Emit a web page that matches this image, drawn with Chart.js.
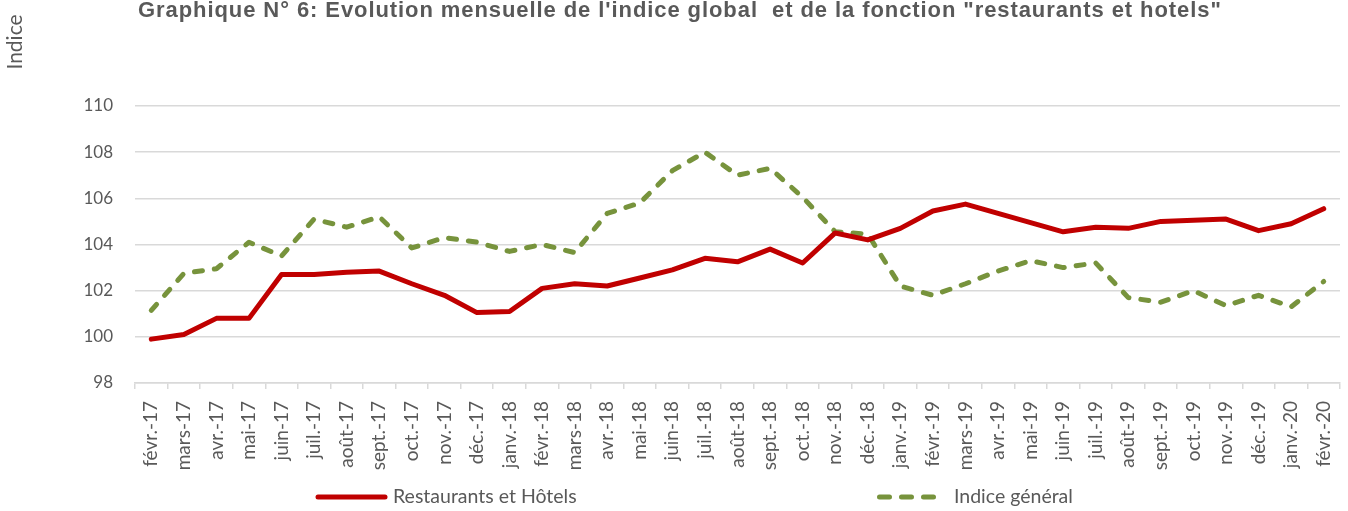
<!DOCTYPE html>
<html>
<head>
<meta charset="utf-8">
<script src="https://cdn.jsdelivr.net/npm/chart.js@4.4.0/dist/chart.umd.min.js"></script>
<style>
html,body{margin:0;padding:0;background:#fff;}
#wrap{width:1348px;height:511px;position:relative;}
</style>
</head>
<body>
<div id="wrap"><canvas id="c" width="1348" height="511"></canvas></div>
<script>
const categories = ["févr.-17","mars-17","avr.-17","mai-17","juin-17","juil.-17","août-17","sept.-17","oct.-17","nov.-17","déc.-17","janv.-18","févr.-18","mars-18","avr.-18","mai-18","juin-18","juil.-18","août-18","sept.-18","oct.-18","nov.-18","déc.-18","janv.-19","févr.-19","mars-19","avr.-19","mai-19","juin-19","juil.-19","août-19","sept.-19","oct.-19","nov.-19","déc.-19","janv.-20","févr.-20"];
const restaurantsHotels = [99.9,100.1,100.8,100.8,102.7,102.7,102.8,102.85,102.3,101.8,101.05,101.1,102.1,102.3,102.2,102.55,102.9,103.4,103.25,103.8,103.2,104.5,104.2,104.7,105.45,105.75,105.35,104.95,104.55,104.75,104.7,105.0,105.05,105.1,104.6,104.9,105.55];
const indiceGeneral = [101.15,102.75,102.95,104.1,103.5,105.1,104.75,105.2,103.85,104.3,104.1,103.7,104.0,103.65,105.35,105.8,107.2,108.0,107.0,107.3,106.05,104.55,104.45,102.2,101.8,102.3,102.85,103.3,103.0,103.2,101.7,101.5,102.0,101.35,101.8,101.3,102.4];
const yTicks = [98,100,102,104,106,108,110];
const titleText = 'Graphique N° 6: Evolution mensuelle de l\'indice global  et de la fonction "restaurants et hotels"';
const yLabel = 'Indice';
const seriesNames = ["Restaurants et Hôtels","Indice général"];

const TXT = '#595959';
const GRID = '#d9d9d9';
const RED = '#C00000';
const GREEN = '#77933C';

Chart.defaults.font.family = 'Lato, sans-serif';
Chart.defaults.font.size = 17;
Chart.defaults.color = TXT;

const decor = {
  id:'decor',
  afterDraw(chart){
    const ctx = chart.ctx;
    ctx.save();
    ctx.fillStyle = TXT;
    ctx.font = 'bold 22px "Liberation Sans", Arial, sans-serif';
    ctx.textAlign = 'left';
    ctx.textBaseline = 'middle';
    const target = 1084;
    const w = ctx.measureText(titleText).width;
    const ls = (target - w) / titleText.length;
    ctx.letterSpacing = ls.toFixed(2) + 'px';
    ctx.fillText(titleText, 138, 11);
    ctx.letterSpacing = '0px';
    ctx.save();
    ctx.translate(15, 42);
    ctx.rotate(-Math.PI/2);
    ctx.textAlign = 'center';
    ctx.font = '21px Lato, sans-serif';
    ctx.fillText(yLabel, 0, 0);
    ctx.restore();
    const ly = 497;
    ctx.lineCap = 'round';
    ctx.lineWidth = 5;
    ctx.strokeStyle = RED;
    ctx.beginPath(); ctx.moveTo(318, ly); ctx.lineTo(385, ly); ctx.stroke();
    ctx.strokeStyle = GREEN;
    ctx.setLineDash([10, 12]);
    ctx.beginPath(); ctx.moveTo(879.5, ly); ctx.lineTo(934, ly); ctx.stroke();
    ctx.setLineDash([]);
    ctx.fillStyle = TXT;
    ctx.font = '19.5px Lato, sans-serif';
    ctx.textAlign = 'left';
    ctx.fillText(seriesNames[0], 393, ly);
    ctx.fillText(seriesNames[1], 954, ly);
    ctx.restore();
  }
};

new Chart(document.getElementById('c'), {
  type:'line',
  data:{
    labels: categories,
    datasets:[
      {label:seriesNames[0], data:restaurantsHotels, borderColor:RED, borderWidth:5, pointRadius:0, tension:0, borderJoinStyle:'round', borderCapStyle:'round'},
      {label:seriesNames[1], data:indiceGeneral, borderColor:GREEN, borderWidth:5, pointRadius:0, tension:0, borderDash:[8,12], borderCapStyle:'round', borderJoinStyle:'round'}
    ]
  },
  options:{
    responsive:false,
    animation:false,
    layout:{padding:{top:106,right:8,left:0,bottom:0}},
    plugins:{legend:{display:false}, title:{display:false}, tooltip:{enabled:false}},
    scales:{
      x:{
        offset:true,
        grid:{drawOnChartArea:false, drawTicks:true, tickLength:6, color:GRID, offset:true, lineWidth:1.5},
        border:{color:GRID, width:1.5},
        ticks:{minRotation:90, maxRotation:90, autoSkip:false, color:TXT, font:{family:'Lato, sans-serif', size:19}, padding:12},
        afterFit(s){ s.height = 128; s.paddingLeft = 0; s.paddingRight = 0; }
      },
      y:{
        min:98, max:110,
        afterBuildTicks(s){ s.ticks = yTicks.map(v=>({value:v})); },
        grid:{color:GRID, lineWidth:1.5, drawTicks:false},
        border:{display:false},
        ticks:{color:TXT, font:{family:'Lato, sans-serif', size:17}, padding:22},
        afterFit(s){ s.width = 135; }
      }
    }
  },
  plugins:[decor]
});
</script>
</body>
</html>
